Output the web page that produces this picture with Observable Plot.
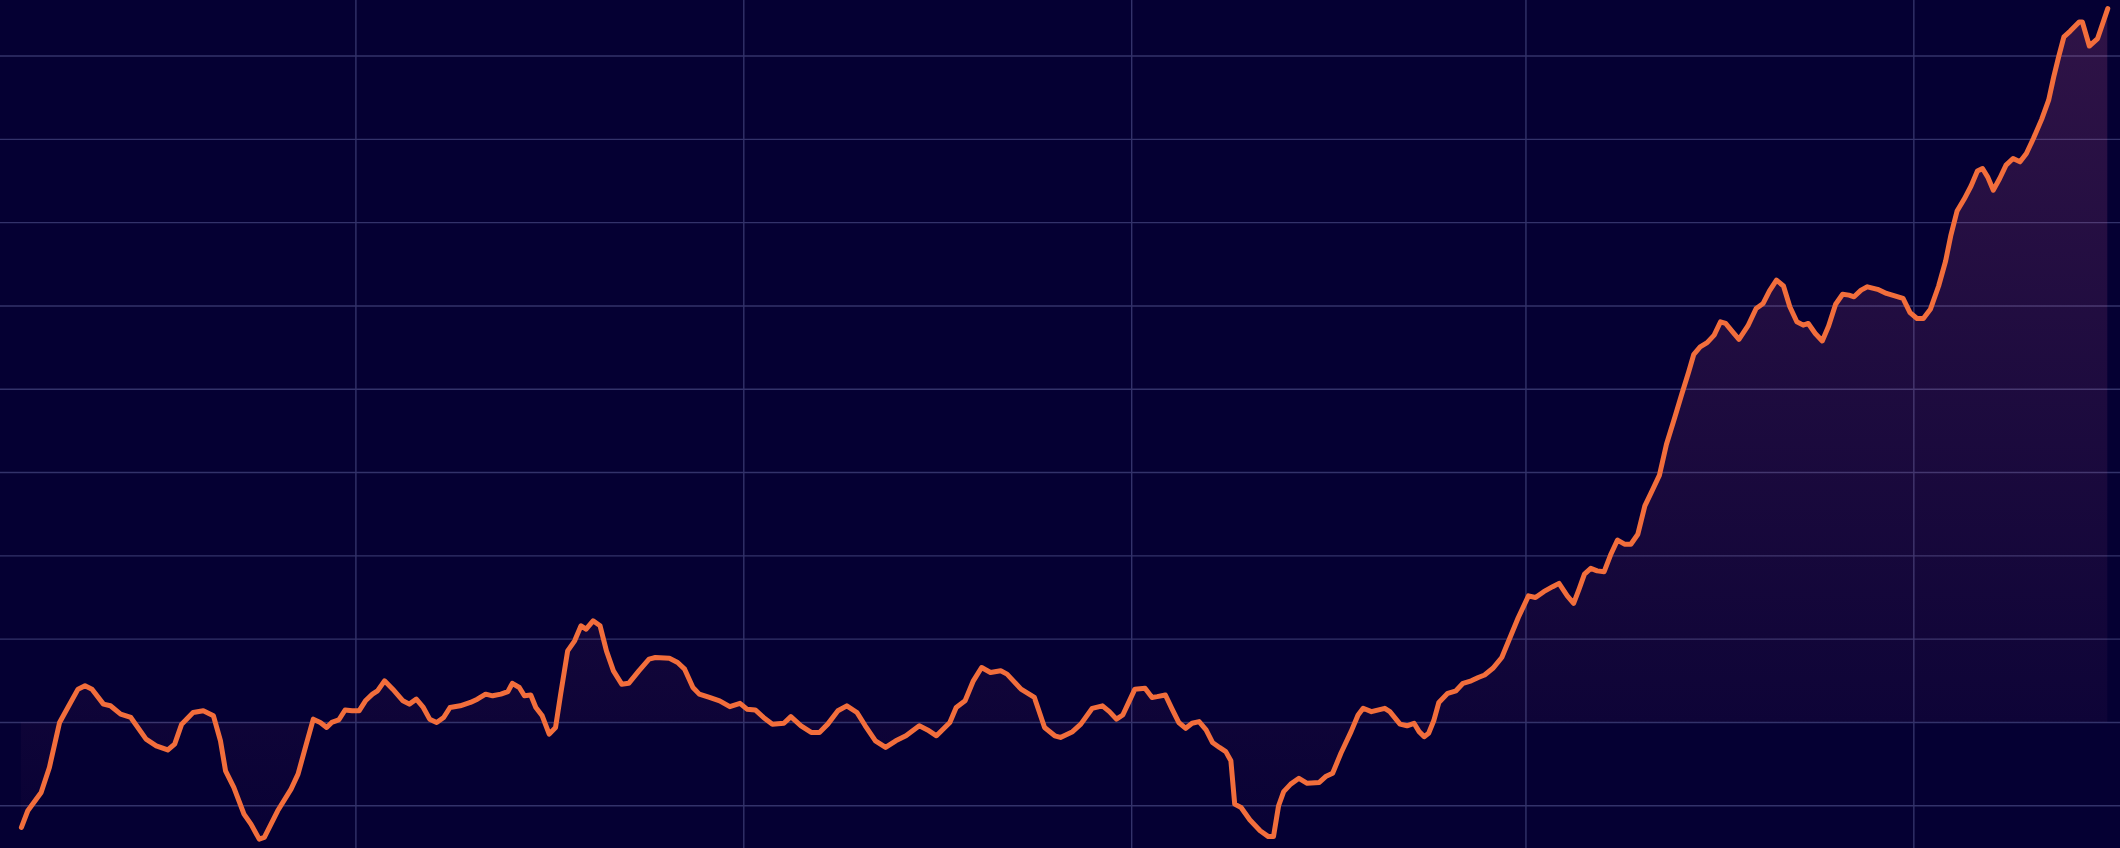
<!DOCTYPE html>
<html>
<head>
<meta charset="utf-8">
<script src="https://cdn.jsdelivr.net/npm/d3@7"></script>
<script src="https://cdn.jsdelivr.net/npm/@observablehq/plot@0.6"></script>
<style>
  html, body { margin: 0; padding: 0; background: #050033; overflow: hidden; }
  svg { display: block; }
</style>
</head>
<body>
<div id="chart"></div>
<script>
// Day of year (Jan 1 = 0, year 2023) of each reading
const dayOfYear = [
  6.4,7.4,9.5,10.8,12.4,13.7,15.3,16.4,17.5,19.3,20.4,22.0,23.6,26.0,27.6,29.4,30.5,31.6,33.4,35.0,
  36.6,37.7,38.5,39.8,41.4,42.5,43.8,44.6,46.7,48.8,49.9,51.2,52.3,53.4,54.4,55.2,56.3,57.3,58.4,59.5,
  60.5,61.6,62.4,63.5,64.8,66.4,67.4,68.5,69.6,70.6,71.7,72.8,73.8,75.4,77.0,78.1,79.4,80.5,81.8,82.9,
  83.6,84.7,85.5,86.5,87.3,88.3,89.4,90.4,91.2,92.3,93.4,94.4,95.2,96.3,97.4,98.4,99.5,100.8,101.9,103.5,
  105.1,106.1,108.3,109.6,110.7,112.0,113.0,114.6,116.2,117.8,119.4,120.5,121.8,123.1,124.5,126.3,127.4,129.0,130.6,131.9,
  133.2,134.8,136.2,137.8,139.1,140.7,142.3,143.9,145.5,147.6,148.9,150.3,152.4,153.4,154.8,156.1,157.4,158.8,160.4,161.4,
  163.6,165.7,167.3,168.9,169.8,171.7,173.0,174.8,176.4,177.5,178.6,179.6,180.4,181.5,183.1,184.2,185.0,186.3,187.3,188.4,
  189.5,190.5,191.6,192.7,193.7,194.8,195.8,196.6,197.2,198.2,199.6,201.2,202.5,203.3,204.1,204.9,206.0,207.3,208.6,210.5,
  211.5,212.6,213.9,215.5,216.6,217.4,218.7,220.8,221.6,223.2,224.3,225.4,226.2,227.0,227.7,228.5,229.3,230.7,232.0,233.1,
  234.4,235.5,236.5,237.8,239.2,240.5,241.8,243.4,244.5,245.8,247.2,248.2,249.5,250.5,251.4,252.2,253.2,254.2,255.3,256.3,
  257.4,258.5,259.5,260.6,261.7,262.7,264.0,265.1,266.4,267.5,268.6,269.4,270.4,271.5,272.6,273.6,274.4,275.5,276.5,277.9,
  279.2,280.3,281.3,282.4,283.5,284.5,285.6,286.6,287.4,288.5,289.6,290.6,291.7,292.8,293.8,294.6,295.7,296.7,298.3,299.7,
  301.0,302.3,303.4,304.5,305.5,306.6,307.9,309.0,309.8,310.8,311.9,313.0,314.0,314.8,315.6,316.5,317.5,318.5,319.6,320.7,
  321.7,322.8,324.1,325.2,326.0,326.8,327.6,328.6,330.0,330.5,331.6,332.9,334.5
];
const values = [
  -12.6,-10.6,-8.4,-5.4,0.0,1.8,4.0,4.4,4.0,2.2,2.0,1.0,0.6,-2.0,-2.8,-3.3,-2.6,-0.2,1.2,1.4,
  0.8,-2.2,-5.8,-7.8,-11.0,-12.2,-14.0,-13.8,-10.6,-8.0,-6.2,-2.6,0.4,0.0,-0.6,0.0,0.3,1.5,1.4,1.4,
  2.6,3.4,3.8,5.0,4.0,2.6,2.2,2.8,1.8,0.4,0.0,0.6,1.8,2.0,2.4,2.8,3.4,3.2,3.4,3.7,
  4.7,4.2,3.2,3.3,1.8,0.8,-1.4,-0.6,3.4,8.6,9.8,11.6,11.2,12.2,11.6,8.6,6.2,4.6,4.7,6.2,
  7.6,7.8,7.7,7.2,6.4,4.2,3.4,3.0,2.6,1.9,2.3,1.6,1.5,0.6,-0.2,-0.1,0.7,-0.4,-1.2,-1.2,
  -0.2,1.4,2.0,1.2,-0.4,-2.2,-3.0,-2.2,-1.6,-0.4,-0.9,-1.6,0.0,1.8,2.6,5.0,6.6,6.0,6.2,5.8,
  4.0,3.0,-0.6,-1.6,-1.8,-1.1,-0.2,1.7,2.0,1.3,0.4,0.9,2.2,4.0,4.1,3.0,3.1,3.3,1.7,0.0,
  -0.7,-0.1,0.1,-0.9,-2.4,-3.0,-3.5,-4.6,-9.8,-10.2,-11.7,-13.0,-13.7,-13.7,-10.0,-8.3,-7.4,-6.7,-7.3,-7.2,
  -6.5,-6.1,-3.7,-1.1,0.9,1.7,1.3,1.7,1.3,-0.2,-0.4,-0.1,-1.1,-1.7,-1.3,0.2,2.4,3.5,3.8,4.7,
  5.0,5.4,5.7,6.5,7.8,10.2,12.6,15.2,15.0,15.7,16.3,16.7,15.2,14.3,16.1,17.8,18.5,18.2,18.1,20.1,
  21.9,21.4,21.4,22.6,26.0,27.6,29.7,33.4,36.6,39.4,42.1,44.2,45.1,45.6,46.5,48.1,47.9,46.9,46.0,47.6,
  49.7,50.3,51.8,53.1,52.4,49.9,48.1,47.7,47.9,46.7,45.8,47.6,50.2,51.4,51.3,51.1,51.9,52.3,52.0,51.5,
  51.2,50.9,49.2,48.5,48.5,49.6,52.4,55.4,58.4,61.4,62.8,64.4,66.2,66.5,65.5,63.9,65.3,66.9,67.7,67.3,
  68.3,70.1,72.4,74.7,77.5,80.0,82.3,83.0,84.1,84.1,81.2,82.1,85.7
];
// Grid ticks
const xTicks = ["2023-03-01", "2023-05-01", "2023-07-01", "2023-09-01", "2023-11-01"];
const yTicks = [-10, 0, 10, 20, 30, 40, 50, 60, 70, 80];

const base = Date.UTC(2023, 0, 1);
const toDate = d => new Date(base + d * 864e5);
const data = dayOfYear.map((d, i) => ({date: toDate(d), value: values[i]}));

const gradientDefs = () => {
  const defs = d3.create("svg:defs");
  const g = defs.append("linearGradient")
    .attr("id", "areaGrad").attr("x1", 0).attr("y1", 0).attr("x2", 0).attr("y2", 1);
  g.append("stop").attr("offset", "0%").attr("stop-color", "rgb(240,106,160)").attr("stop-opacity", 0.18);
  g.append("stop").attr("offset", "100%").attr("stop-color", "rgb(240,106,160)").attr("stop-opacity", 0.015);
  return defs.node();
};

const chart = Plot.plot({
  width: 2120,
  height: 848,
  margin: 0,
  style: {background: "#050033"},
  x: {type: "utc", domain: [toDate(3.11), toDate(336.5)], axis: null},
  y: {domain: [-15.13, 86.67], axis: null},
  marks: [
    gradientDefs,
    Plot.ruleX(xTicks.map(s => new Date(s)), {stroke: "#33326a", strokeWidth: 1.4}),
    Plot.ruleY(yTicks, {stroke: "#33326a", strokeWidth: 1.4}),
    Plot.areaY(data, {x: "date", y: "value", fill: "url(#areaGrad)"}),
    Plot.lineY(data, {x: "date", y: "value", stroke: "#f26e3c", strokeWidth: 5, strokeLinejoin: "round", strokeLinecap: "round"})
  ]
});
document.getElementById("chart").appendChild(chart);
</script>
</body>
</html>
